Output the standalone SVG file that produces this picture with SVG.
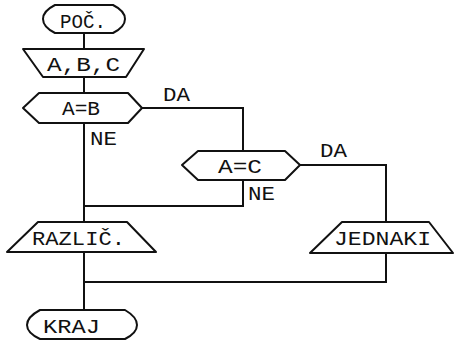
<svg xmlns="http://www.w3.org/2000/svg" width="454" height="341" viewBox="0 0 454 341">
<style>
.s{fill:none;stroke:#111;stroke-width:2;stroke-linejoin:round}
.c{fill:none;stroke:#111;stroke-width:2}
text{font-family:"Liberation Mono","DejaVu Sans Mono",monospace;font-size:21px;fill:#111}
</style>
<rect width="454" height="341" fill="#fff"/>
<g id="connectors">
<path class="c" d="M84,33 V49"/>
<path class="c" d="M84,77 V93"/>
<path class="c" d="M142,108 H243 V151"/>
<path class="c" d="M84,123 V222"/>
<path class="c" d="M300,165 H386 V222"/>
<path class="c" d="M243,180 V206 H84"/>
<path class="c" d="M84,252 V310"/>
<path class="c" d="M386,253 V282 H84"/>
<text x="163" y="101" textLength="27" lengthAdjust="spacingAndGlyphs">DA</text>
<text x="90" y="145" textLength="27" lengthAdjust="spacingAndGlyphs">NE</text>
<text x="320" y="157" textLength="27" lengthAdjust="spacingAndGlyphs">DA</text>
<text x="248" y="200" textLength="27" lengthAdjust="spacingAndGlyphs">NE</text>
</g>
<g id="poc">
<path class="s" d="M55,5 H113 Q125,11 125,19 Q125,27 113,33 H55 Q43,27 43,19 Q43,11 55,5 Z"/>
<text x="60" y="28" textLength="46" lengthAdjust="spacingAndGlyphs">POČ.</text>
</g>
<g id="input">
<path class="s" d="M23,49 H144 L126,77 H43 Z"/>
<text x="47" y="71" textLength="73" lengthAdjust="spacingAndGlyphs">A,B,C</text>
</g>
<g id="aeqb">
<path class="s" d="M39,93 H128 L142,108 L128,123 H39 L23,108 Z"/>
<text x="62" y="115" textLength="38" lengthAdjust="spacingAndGlyphs">A=B</text>
</g>
<g id="aeqc">
<path class="s" d="M198,151 H285 L300,165 L285,180 H198 L182,165 Z"/>
<text x="218" y="173" textLength="44" lengthAdjust="spacingAndGlyphs">A=C</text>
</g>
<g id="razlic">
<path class="s" d="M38,222 H127 L156,252 H7 Z"/>
<text x="32" y="245" textLength="93" lengthAdjust="spacingAndGlyphs">RAZLIČ.</text>
</g>
<g id="jednaki">
<path class="s" d="M342,222 H429 L453,253 H310 Z"/>
<text x="334" y="245" textLength="97" lengthAdjust="spacingAndGlyphs">JEDNAKI</text>
</g>
<g id="kraj">
<path class="s" d="M40,310 H125 Q137,317 137,325 Q137,333 125,339 H40 Q27,333 27,325 Q27,317 40,310 Z"/>
<text x="43" y="333" textLength="57" lengthAdjust="spacingAndGlyphs">KRAJ</text>
</g>
</svg>
